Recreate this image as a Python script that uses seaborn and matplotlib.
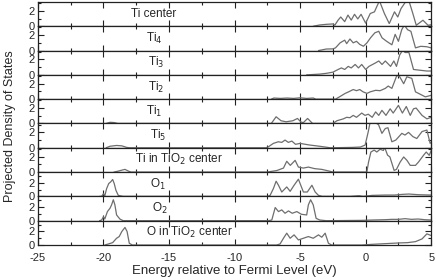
import matplotlib
matplotlib.use("Agg")
import matplotlib.pyplot as plt
import seaborn as sns
from matplotlib.ticker import MultipleLocator

sns.set_style("ticks")
plt.rcParams['font.family'] = ['Liberation Sans', 'DejaVu Sans']
plt.rcParams['axes.unicode_minus'] = False

# Projected DOS, one pair of lists per atom
ti_center_e = [-4.0, -3.5, -3.0, -2.5, -2.35, -2.1, -1.9, -1.6, -1.35, -1.1, -0.85, -0.6, -0.35, 0.0,
               0.35, 0.67, 1.05, 1.43, 1.8, 2.2, 2.45, 2.7, 3.1, 3.3, 3.6, 3.86, 4.37, 4.76, 5.0]
ti_center_dos = [0.0, 0.17, 0.25, 0.3, 0.15, 0.8, 1.2, 0.6, 1.45, 0.8, 1.55, 0.95, 1.55, 0.4,
                 1.65, 1.87, 3.3, 1.65, 0.35, 1.87, 1.2, 2.3, 3.3, 3.3, 1.65, 0.13, 0.78, 0.13, 0.2]

ti4_e = [-3.6, -3.0, -2.5, -2.3, -1.95, -1.6, -1.45, -1.2, -0.95, -0.7, -0.45, -0.17, 0.1, 0.37, 0.7,
         1.0, 1.25, 1.6, 2.0, 2.25, 2.5, 2.75, 2.95, 3.2, 3.45, 3.8, 4.2, 4.65, 5.0]
ti4_dos = [0.0, 0.2, 0.22, 0.35, 1.0, 1.35, 0.9, 1.5, 1.0, 1.2, 0.8, 0.56, 1.0, 1.65, 2.3,
           2.5, 1.65, 1.2, 0.75, 2.1, 1.2, 2.7, 3.3, 2.7, 2.5, 0.35, 0.55, 0.5, 0.35]

ti3_e = [-4.5, -3.5, -3.0, -2.5, -2.1, -1.85, -1.6, -1.33, -1.1, -0.8, -0.55, -0.3, 0.0, 0.25, 0.75,
         1.0, 1.25, 1.5, 1.9, 2.15, 2.35, 2.6, 2.83, 3.0, 3.3, 3.65, 4.15, 4.67, 5.0]
ti3_dos = [0.0, 0.1, 0.2, 0.35, 0.7, 0.9, 0.7, 1.1, 0.9, 1.35, 0.9, 1.35, 0.7, 1.1, 1.55,
           1.8, 1.35, 1.8, 1.1, 1.8, 1.1, 2.6, 3.2, 2.9, 2.9, 0.7, 0.6, 0.5, 0.5]

ti2_e = [-7.2, -7.0, -6.5, -6.0, -5.5, -5.0, -4.5, -4.0, -3.8, -2.3, -2.0, -1.56, -1.3, -0.95, -0.7,
         -0.45, -0.2, 0.1, 0.35, 0.76, 1.1, 1.5, 1.72, 2.0, 2.25, 2.38, 2.6, 2.9, 3.14, 3.52, 3.8,
         4.15, 4.55, 5.0]
ti2_dos = [0.0, 0.15, 0.1, 0.15, 0.1, 0.18, 0.1, 0.15, 0.0, 0.0, 0.3, 0.75, 0.95, 1.25, 1.1,
           1.25, 0.95, 0.75, 0.95, 1.15, 1.1, 1.4, 1.7, 1.4, 2.5, 3.1, 2.9, 2.0, 2.9, 2.7, 0.95,
           0.65, 0.3, 0.5]

ti1_e = [-19.8, -19.5, -19.2, -18.9,
         -7.2, -6.83, -6.45, -6.07, -5.56, -5.2, -4.94, -4.76, -4.43, -4.05,
         -2.5, -2.2, -1.7, -1.45, -1.2, -0.95, -0.7, -0.3, -0.05, 0.2, 0.5, 0.76, 1.0, 1.24, 1.55,
         1.87, 2.1, 2.5, 2.8, 3.1, 3.4, 3.65, 3.85, 4.3, 4.67, 5.0]
ti1_dos = [0.0, 0.15, 0.12, 0.0,
           0.0, 0.87, 0.35, 0.22, 0.35, 0.65, 0.2, 0.1, 0.65, 0.0,
           0.0, 0.35, 0.6, 0.8, 0.75, 1.05, 0.8, 1.35, 1.05, 1.2, 0.8, 1.5, 1.05, 1.7, 1.05,
           1.9, 1.35, 2.35, 1.35, 2.2, 1.05, 1.9, 2.0, 1.05, 0.6, 0.8]

ti5_e = [-19.8, -19.5, -19.0, -18.6, -18.23, -18.0,
         -7.6, -7.42, -7.04, -6.66, -6.4, -6.15, -5.9, -5.63, -5.35, -5.0, -4.6, -4.24, -3.8,
         -3.22, -2.7,
         -1.0, -0.4, -0.04, 0.2, 0.34, 0.6, 0.98, 1.24, 1.5, 1.7, 2.0, 2.3, 2.76, 3.0, 3.27, 3.6,
         3.9, 4.3, 4.67, 4.92, 5.0]
ti5_dos = [0.0, 0.2, 0.3, 0.25, 0.05, 0.0,
           0.0, 0.13, 0.57, 0.78, 0.7, 1.0, 0.7, 0.87, 0.45, 0.57, 0.45, 0.35, 0.26,
           0.13, 0.0,
           0.05, 0.1, 0.35, 2.1, 3.3, 3.4, 3.0, 1.87, 2.5, 2.6, 0.78, 1.0, 1.87, 1.65, 2.0, 1.45,
           1.2, 2.1, 2.3, 0.57, 0.75]

ti_tio2_e = [-19.2, -18.87, -18.6, -18.36, -18.1, -17.9,
             -7.54, -6.78, -6.27, -6.02, -5.75, -5.38, -5.13, -4.75, -4.37, -3.9, -3.35, -2.71, -2.5,
             -0.05, 0.09, 0.22, 0.4, 0.65, 0.85, 1.1, 1.35, 1.45, 1.67, 1.85, 2.17, 2.35, 2.63,
             2.9, 3.15, 3.4, 3.8, 4.03, 4.41, 4.62, 4.85, 5.0]
ti_tio2_dos = [0.0, 0.13, 0.25, 0.35, 0.13, 0.0,
               0.0, 0.2, 0.52, 1.4, 0.87, 1.52, 0.65, 0.52, 0.65, 0.45, 0.35, 0.1, 0.0,
               0.0, 0.0, 1.3, 2.6, 2.85, 2.6, 2.96, 2.8, 3.2, 2.2, 1.96, 0.22, 0.35, 1.3,
               1.96, 1.52, 0.87, 0.87, 1.3, 2.17, 2.6, 2.17, 2.8]

o1_e = [-20.3, -20.14, -20.0, -19.9, -19.76, -19.6, -19.45, -19.3, -19.18, -19.05, -18.87, -18.5,
        -7.5, -7.29, -7.04, -6.83, -6.65, -6.4, -6.02, -5.76, -5.46, -5.13, -4.95, -4.75, -4.45,
        -4.1, -3.85, -3.6, -3.3,
        -1.2, -0.5, -0.2, 0.5, 1.5, 2.2, 2.8, 3.3, 4.0, 5.0]
o1_dos = [0.0, 0.0, 0.4, 0.1, 1.15, 1.9, 2.15, 2.5, 1.9, 0.9, 0.15, 0.0,
          0.0, 0.15, 1.15, 2.25, 1.65, 0.65, 1.4, 0.75, 1.65, 2.55, 1.65, 0.65, 0.65,
          1.65, 0.65, 0.15, 0.0,
          0.0, 0.1, 0.0, 0.15, 0.2, 0.2, 0.3, 0.35, 0.25, 0.2]

o2_e = [-20.3, -20.14, -20.0, -19.9, -19.7, -19.5, -19.38, -19.25, -19.13, -19.0, -18.75, -18.5,
        -7.4, -7.16, -6.9, -6.65, -6.4, -6.15, -5.89, -5.6, -5.25, -4.9, -4.5, -4.37, -4.2, -4.0,
        -3.78, -3.5, -3.0,
        -0.3, 0.5, 1.5, 2.0, 2.5, 3.0, 3.5, 4.0, 4.5, 5.0]
o2_dos = [0.0, 0.1, 0.6, 0.25, 1.35, 1.85, 2.35, 3.1, 2.35, 0.85, 0.25, 0.0,
          0.0, 0.1, 1.95, 1.35, 1.6, 1.1, 1.45, 1.1, 1.35, 0.95, 0.85, 2.35, 3.1, 2.35,
          0.35, 0.1, 0.0,
          0.05, 0.1, 0.15, 0.2, 0.2, 0.3, 0.2, 0.25, 0.15, 0.1]

o_tio2_e = [-19.9, -19.63, -19.3, -19.0, -18.8, -18.6, -18.36, -18.2, -18.03, -17.8,
            -6.8, -6.53, -6.27, -6.02, -5.76, -5.46, -5.13, -4.75, -4.37, -4.0, -3.6, -3.35,
            -3.09, -2.84, -2.6,
            -0.3, 0.5, 1.5, 2.5, 3.2, 3.8, 4.3, 4.67, 5.0]
o_tio2_dos = [0.0, 0.15, 0.35, 1.0, 1.25, 2.0, 2.6, 2.0, 0.25, 0.0,
              0.0, 0.15, 1.0, 1.75, 1.0, 1.5, 0.75, 1.0, 1.25, 1.0, 1.5, 1.15,
              1.75, 0.25, 0.0,
              0.0, 0.1, 0.2, 0.3, 0.35, 0.5, 0.9, 1.65, 1.4]

labels = ["Ti center", "Ti$_4$", "Ti$_3$", "Ti$_2$", "Ti$_1$", "Ti$_5$",
          "Ti in TiO$_2$ center", "O$_1$", "O$_2$", "O in TiO$_2$ center"]
label_x = [-16.2, -16.1, -16.0, -16.0, -16.1, -15.85, -14.25, -15.85, -15.7, -13.4]

panels = [(ti_center_e, ti_center_dos), (ti4_e, ti4_dos), (ti3_e, ti3_dos), (ti2_e, ti2_dos),
          (ti1_e, ti1_dos), (ti5_e, ti5_dos), (ti_tio2_e, ti_tio2_dos), (o1_e, o1_dos),
          (o2_e, o2_dos), (o_tio2_e, o_tio2_dos)]

fig, axes = plt.subplots(10, 1, sharex=True, figsize=(4.36, 2.8), dpi=100)
fig.subplots_adjust(left=0.087, right=0.989, top=0.993, bottom=0.125, hspace=0)

for i, (ax, (e, dos)) in enumerate(zip(axes, panels)):
    sns.lineplot(x=e, y=dos, ax=ax, color="#6e6e6e", lw=0.9, estimator=None, sort=False)
    ymax = 3.15 if i < 7 else 3.6
    ax.set_ylim(0, ymax)
    ax.set_xlim(-25, 5)
    ax.set_yticks([0, 2])
    ax.yaxis.set_minor_locator(MultipleLocator(1))
    ax.xaxis.set_major_locator(MultipleLocator(5))
    ax.xaxis.set_minor_locator(MultipleLocator(2.5))
    ax.tick_params(which="both", direction="in", top=True, right=True, labelsize=8,
                   width=0.8, color="#222222")
    ax.tick_params(axis="y", pad=2)
    ax.tick_params(axis="x", pad=6)
    ax.tick_params(which="major", length=4)
    ax.tick_params(which="minor", length=2.5)
    for sp in ax.spines.values():
        sp.set_linewidth(0.9)
        sp.set_color("#222222")
    ax.set_ylabel("")
    ax.text(label_x[i], ymax * 0.5, labels[i], ha="center", va="center", fontsize=8.5)

axes[-1].set_xlabel("Energy relative to Fermi Level (eV)", fontsize=9.5, labelpad=1)
fig.text(0.022, 0.55, "Projected Density of States", rotation=90, ha="center", va="center",
         fontsize=9)

fig.savefig("out.png", dpi=100)
